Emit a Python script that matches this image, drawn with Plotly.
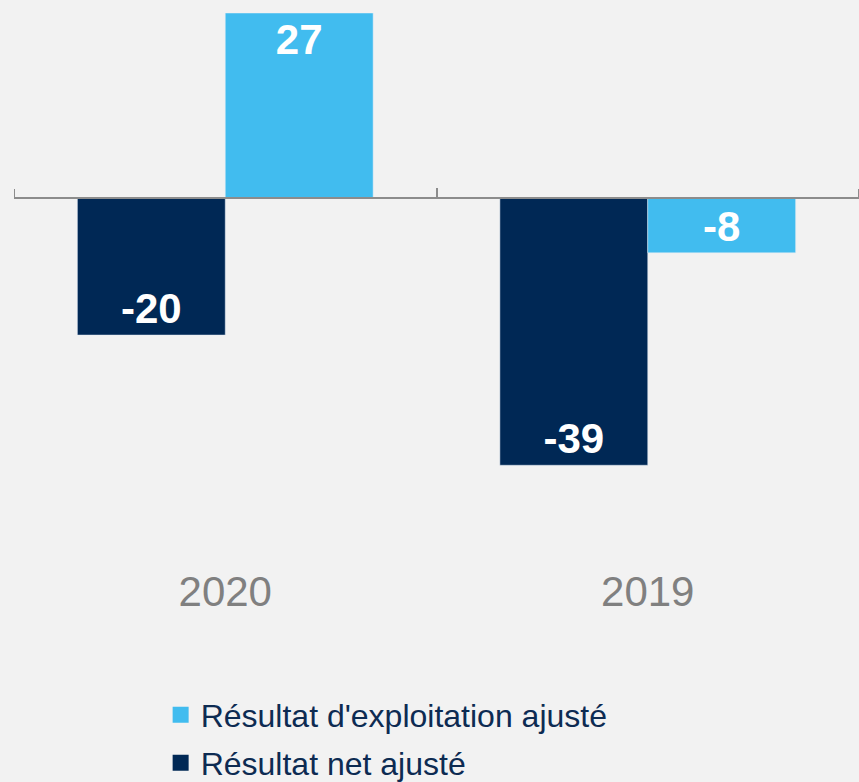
import plotly.graph_objects as go

categories = ["2020", "2019"]
net_values = [-20, -39]
exploit_values = [27, -8]
net_name = "Résultat net ajusté"
exploit_name = "Résultat d'exploitation ajusté"
edge_boundaries = [-0.5, 1.5]

NAVY = "#002855"
BLUE = "#41bcef"
BG = "#f2f2f2"
AXIS = "#8c8c8c"
FONT = "Liberation Sans, Arial, sans-serif"

y_min, y_max = -44.07, 27.0
zero_pos = (0 - y_min) / (y_max - y_min)

fig = go.Figure()
fig.add_trace(go.Bar(
    x=categories, y=net_values, name=net_name, marker_color=NAVY,
    text=net_values, textposition="inside", insidetextanchor="end",
    textfont=dict(family=FONT, size=42, color="white", weight="bold"),
    constraintext="none", textangle=0, showlegend=False, legendgroup="net",
))
fig.add_trace(go.Bar(
    x=categories, y=exploit_values, name=exploit_name, marker_color=BLUE,
    text=exploit_values, textposition="inside", insidetextanchor="end",
    textfont=dict(family=FONT, size=42, color="white", weight="bold"),
    constraintext="none", textangle=0, showlegend=False, legendgroup="exp",
))
# legend entries (square swatches)
fig.add_trace(go.Scatter(
    x=[None], y=[None], mode="markers", name=exploit_name, legendgroup="exp",
    marker=dict(symbol="square", size=16, color=BLUE), legend="legend",
))
fig.add_trace(go.Scatter(
    x=[None], y=[None], mode="markers", name=net_name, legendgroup="net",
    marker=dict(symbol="square", size=16, color=NAVY), legend="legend2",
))

for b in edge_boundaries:
    fig.add_shape(type="line", xref="x", yref="y", x0=b, x1=b,
                  ysizemode="pixel", yanchor=0, y0=0, y1=9,
                  line=dict(color=AXIS, width=2))

fig.update_layout(
    width=859, height=782,
    margin=dict(l=14, r=0, t=13, b=282, autoexpand=False),
    paper_bgcolor=BG, plot_bgcolor=BG,
    barmode="group", bargap=0.30, bargroupgap=0,
    font=dict(family=FONT),
    xaxis=dict(
        type="category", range=[-0.5, 1.5],
        anchor="free", position=zero_pos, side="bottom",
        showline=True, linecolor=AXIS, linewidth=2,
        ticks="inside", tickson="boundaries", ticklen=9, tickwidth=2, tickcolor=AXIS,
        tickfont=dict(size=42, color="#808080", family=FONT),
        ticklabelstandoff=357, showgrid=False, zeroline=False, automargin=False,
    ),
    yaxis=dict(range=[y_min, y_max], visible=False, showgrid=False, zeroline=False),
    legend=dict(
        xref="container", yref="container", x=0.187, y=1 - 715 / 782,
        xanchor="left", yanchor="middle", bgcolor="rgba(0,0,0,0)",
        font=dict(size=32, color="#0d2b52", family=FONT),
    ),
    legend2=dict(
        xref="container", yref="container", x=0.187, y=1 - 763 / 782,
        xanchor="left", yanchor="middle", bgcolor="rgba(0,0,0,0)",
        font=dict(size=32, color="#0d2b52", family=FONT),
    ),
    showlegend=True,
)

fig.write_html("out.html", config={"displayModeBar": False},
               post_script="document.body.style.margin='0';")
